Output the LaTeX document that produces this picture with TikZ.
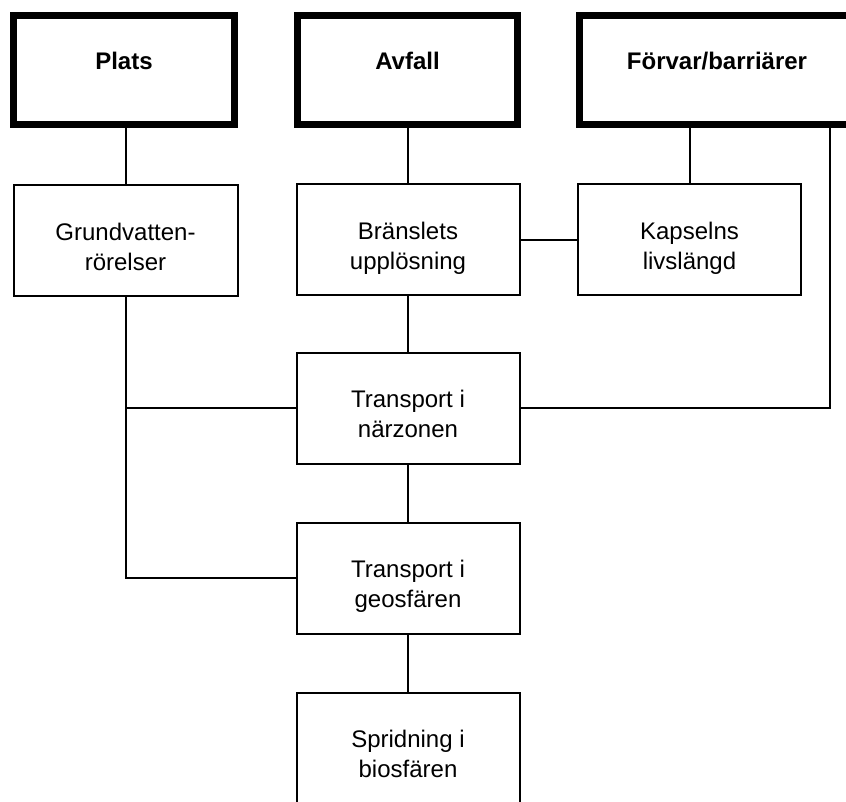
\documentclass[tikz,border=0pt]{standalone}
\usepackage{fontspec}
\setmainfont{Liberation Sans}
\begin{document}
\begin{tikzpicture}[x=1pt,y=-1pt,
  topbox/.style={draw, line width=7pt, font=\bfseries\fontsize{24}{29}\selectfont,
    minimum height=109pt, text height=17.3pt, text depth=18pt, inner sep=0pt},
  subbox/.style={draw, line width=2pt, font=\fontsize{24}{30}\selectfont, align=center,
    minimum width=223pt, minimum height=111pt, inner sep=0pt,
    text height=59pt, text depth=0pt},
  link/.style={line width=2pt}]
\useasboundingbox (0,0) rectangle (846,801);
\fill[white] (0,0) rectangle (846,801);
\clip (0,0) rectangle (846,801);
% top boxes
\node[topbox, minimum width=221pt] (plats) at (124,70) {Plats};
\node[topbox, minimum width=220pt] (avfall) at (407.5,70) {Avfall};
\node[topbox, minimum width=275pt] (forvar) at (717,70) {Förvar/barriärer};
% second row
\node[subbox, minimum width=224pt] (grund) at (125.5,240.5) {Grundvatten-\\rörelser};
\node[subbox] (bransle) at (408,239.5) {Bränslets\\upplösning};
\node[subbox] (kapsel) at (689.5,239.5) {Kapselns\\livslängd};
% column
\node[subbox] (nar) at (408,408) {Transport i\\närzonen};
\node[subbox] (geo) at (408,578) {Transport i\\geosfären};
\node[subbox] (bio) at (408,748) {Spridning i\\biosfären};
% connectors
\draw[link] (grund.north |- plats.south) -- (grund.north);
\draw[link] (bransle.north |- avfall.south) -- (bransle.north);
\draw[link] (kapsel.north |- forvar.south) -- (kapsel.north);
\draw[link] (bransle.east) -- (kapsel.west);
\draw[link] (bransle.south) -- (nar.north);
\draw[link] (nar.south) -- (geo.north);
\draw[link] (geo.south) -- (bio.north);
\coordinate (rc) at (830,408);
\draw[link] (forvar.south -| rc) -- (rc) -- (nar.east);
\draw[link] (grund.south) |- (geo.west);
\draw[link] (grund.south |- nar.west) -- (nar.west);
\end{tikzpicture}
\end{document}
